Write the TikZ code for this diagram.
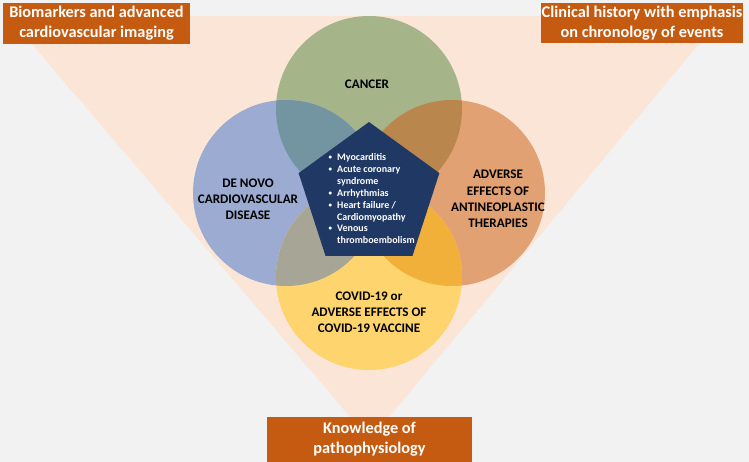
\documentclass[tikz,border=0pt]{standalone}
\usepackage{fontspec}
\setmainfont{Carlito}
\usetikzlibrary{shapes.geometric}
\definecolor{bggray}{HTML}{F2F2F2}
\definecolor{peach}{HTML}{FBE5D6}
\definecolor{boxorange}{HTML}{C55A11}
\definecolor{cgreen}{HTML}{A6B48A}
\definecolor{cblue}{HTML}{9CABD1}
\definecolor{corange}{HTML}{E2A172}
\definecolor{cyellow}{HTML}{FED46E}
\definecolor{ogb}{HTML}{7394A1}
\definecolor{ogo}{HTML}{B9874D}
\definecolor{oby}{HTML}{A7A696}
\definecolor{ooy}{HTML}{F1B03A}
\definecolor{navy}{HTML}{1F3864}
\tikzset{
  labelbox/.style={fill=boxorange, text=white, font=\bfseries\fontsize{16.3}{20}\selectfont, align=center, inner sep=0pt},
  circtext/.style={font=\bfseries\fontsize{13.1}{16.2}\selectfont, align=center, text=black},
}
\newcommand{\pbul}{\hspace{2.5pt}\raisebox{1pt}{\scalebox{0.7}{\textbullet}}}
\begin{document}
\begin{tikzpicture}[x=1pt,y=-1pt]
\useasboundingbox (0,0) rectangle (749,462);
\fill[bggray] (0,0) rectangle (749,462);
\fill[peach] (8,16) -- (722,16) -- (370,440) -- cycle;
% centres
\coordinate (cg) at (369,109);
\coordinate (cb) at (286,193);
\coordinate (co) at (452,193);
\coordinate (cy) at (369,277);
\def\R{93}
\fill[cgreen] (cg) circle (\R);
\fill[cblue] (cb) circle (\R);
\fill[corange] (co) circle (\R);
\fill[cyellow] (cy) circle (\R);
\begin{scope}\clip (cg) circle (\R); \fill[ogb] (cb) circle (\R);\end{scope}
\begin{scope}\clip (cg) circle (\R); \fill[ogo] (co) circle (\R);\end{scope}
\begin{scope}\clip (cy) circle (\R); \fill[oby] (cb) circle (\R);\end{scope}
\begin{scope}\clip (cy) circle (\R); \fill[ooy] (co) circle (\R);\end{scope}
% pentagon
\node[regular polygon, regular polygon sides=5, minimum size=148pt, inner sep=0pt, fill=navy] (pent) at (369,196) {};
\node[text=white, font=\bfseries\fontsize{10}{11.9}\selectfont, inner sep=0pt, anchor=north west] (plist) at (326,152) {%
\renewcommand{\arraystretch}{1}%
\begin{tabular}{@{}p{11pt}@{}l@{}}
\pbul & Myocarditis\\
\pbul & Acute coronary\\
 & syndrome\\
\pbul & Arrhythmias\\
\pbul & Heart failure /\\
 & Cardiomyopathy\\
\pbul & Venous\\
 & thromboembolism
\end{tabular}};
% circle texts
\node[circtext] (tcancer) at (367,84) {CANCER};
\node[circtext] (tdenovo) at (248,199) {DE NOVO\\CARDIOVASCULAR\\DISEASE};
\node[circtext] (tadverse) at (498,199) {ADVERSE\\EFFECTS OF\\ANTINEOPLASTIC\\THERAPIES};
\node[circtext] (tcovid) at (369,312) {COVID-19 or\\ADVERSE EFFECTS OF\\COVID-19 VACCINE};
% label boxes
\node[labelbox, minimum width=187pt, minimum height=41pt] (b1) at (96.5,23.5) {Biomarkers and advanced\\cardiovascular imaging};
\node[labelbox, minimum width=202pt, minimum height=40pt] (b2) at (642,23) {Clinical history with emphasis\\on chronology of events};
\node[labelbox, minimum width=205pt, minimum height=45pt] (b3) at (369.5,439.5) {Knowledge of\\pathophysiology};
\end{tikzpicture}
\end{document}
